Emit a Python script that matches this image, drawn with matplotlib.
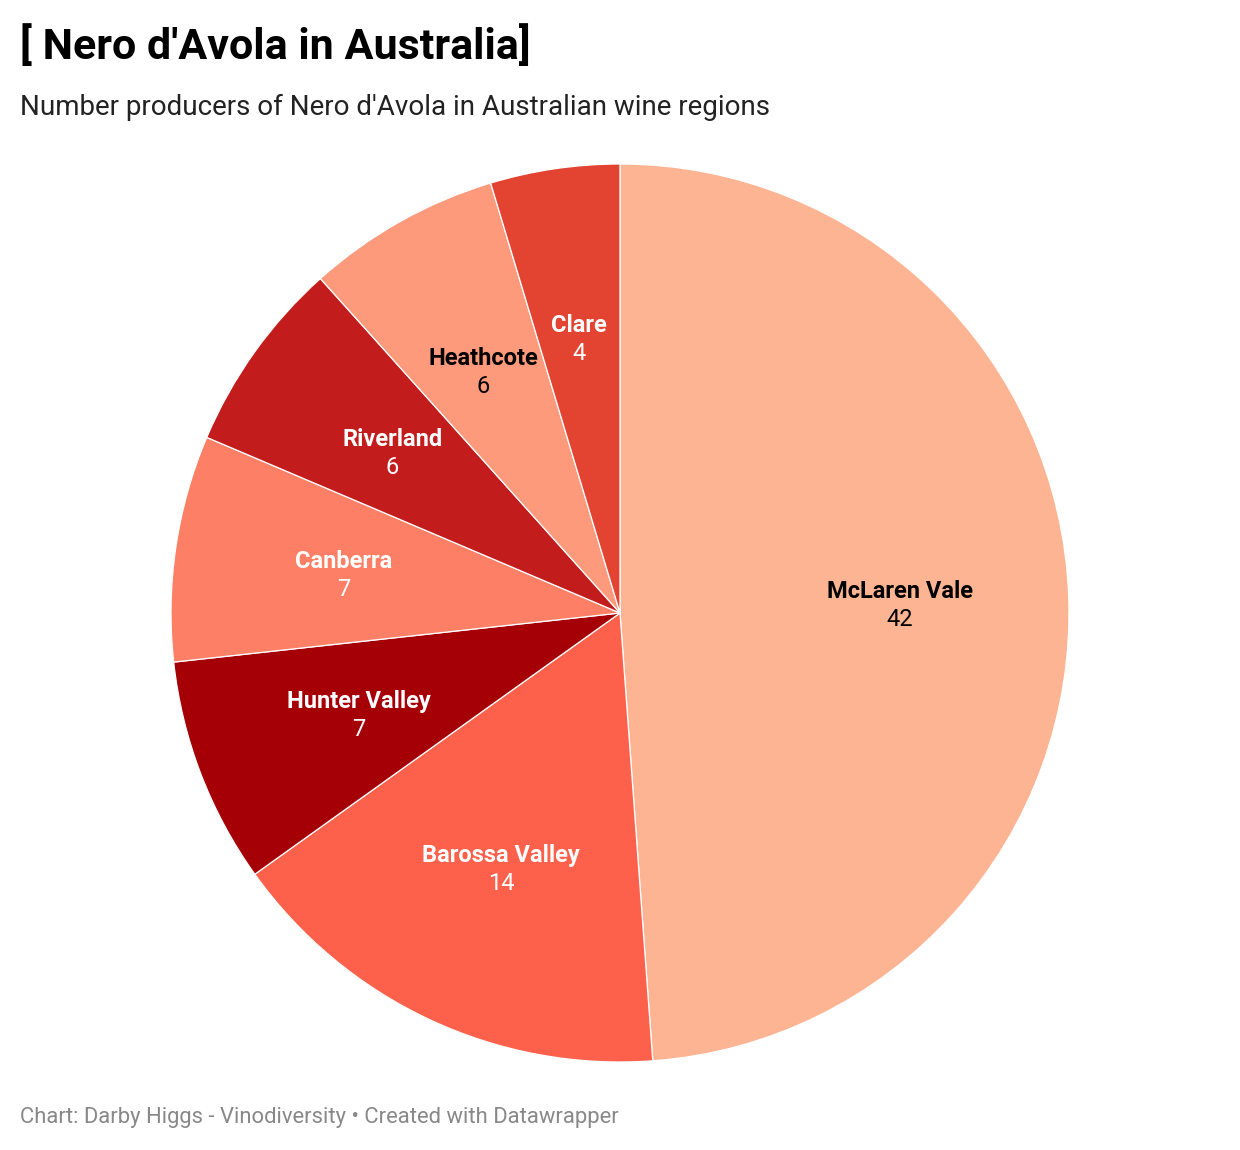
import matplotlib.pyplot as plt
import numpy as np

regions = ["McLaren Vale", "Barossa Valley", "Hunter Valley", "Canberra",
           "Riverland", "Heathcote", "Clare"]
producers = [42, 14, 7, 7, 6, 6, 4]
colors = ["#fdb493", "#fd614c", "#a60007", "#fd7f66", "#c31c1d", "#fd9a7c", "#e34432"]
text_colors = ["black", "white", "white", "white", "white", "black", "white"]

plt.rcParams['font.family'] = ['Roboto', 'DejaVu Sans']

W, H = 1240, 1150
fig = plt.figure(figsize=(W / 100, H / 100), dpi=100)
fig.patch.set_facecolor("white")

# pie axes: center (620, 613), radius 449 px
cx, cy, r = 620, 613, 449
ax = fig.add_axes([(cx - r) / W, 1 - (cy + r) / H, 2 * r / W, 2 * r / H])
wedges, _ = ax.pie(producers, colors=colors, startangle=90, counterclock=False,
                   radius=1.0, wedgeprops=dict(edgecolor="white", linewidth=0.9))
ax.set_xlim(-1, 1)
ax.set_ylim(-1, 1)
ax.set_aspect("equal")
ax.axis("off")

lab_r = 0.623
dy = 14 / r
shift = -3 / r
for w, name, val, tc in zip(wedges, regions, producers, text_colors):
    mid = np.radians((w.theta1 + w.theta2) / 2)
    x, y = lab_r * np.cos(mid), lab_r * np.sin(mid) + shift
    ax.text(x, y + dy, name, ha="center", va="center", fontsize=17,
            fontweight="bold", color=tc)
    ax.text(x, y - dy, str(val), ha="center", va="center", fontsize=17,
            color=tc)

fig.text(20 / W, 1 - 47 / H, "[ Nero d'Avola in Australia]", ha="left", va="center",
         fontsize=31, fontweight="bold", color="black")
fig.text(20 / W, 1 - 107 / H, "Number producers of Nero d'Avola in Australian wine regions",
         ha="left", va="center", fontsize=20, color="#222222")
fig.text(20 / W, 1 - 1117 / H, "Chart: Darby Higgs - Vinodiversity \u2022 Created with Datawrapper",
         ha="left", va="center", fontsize=15.8, color="#888888")

fig.savefig("out.png", dpi=100)
